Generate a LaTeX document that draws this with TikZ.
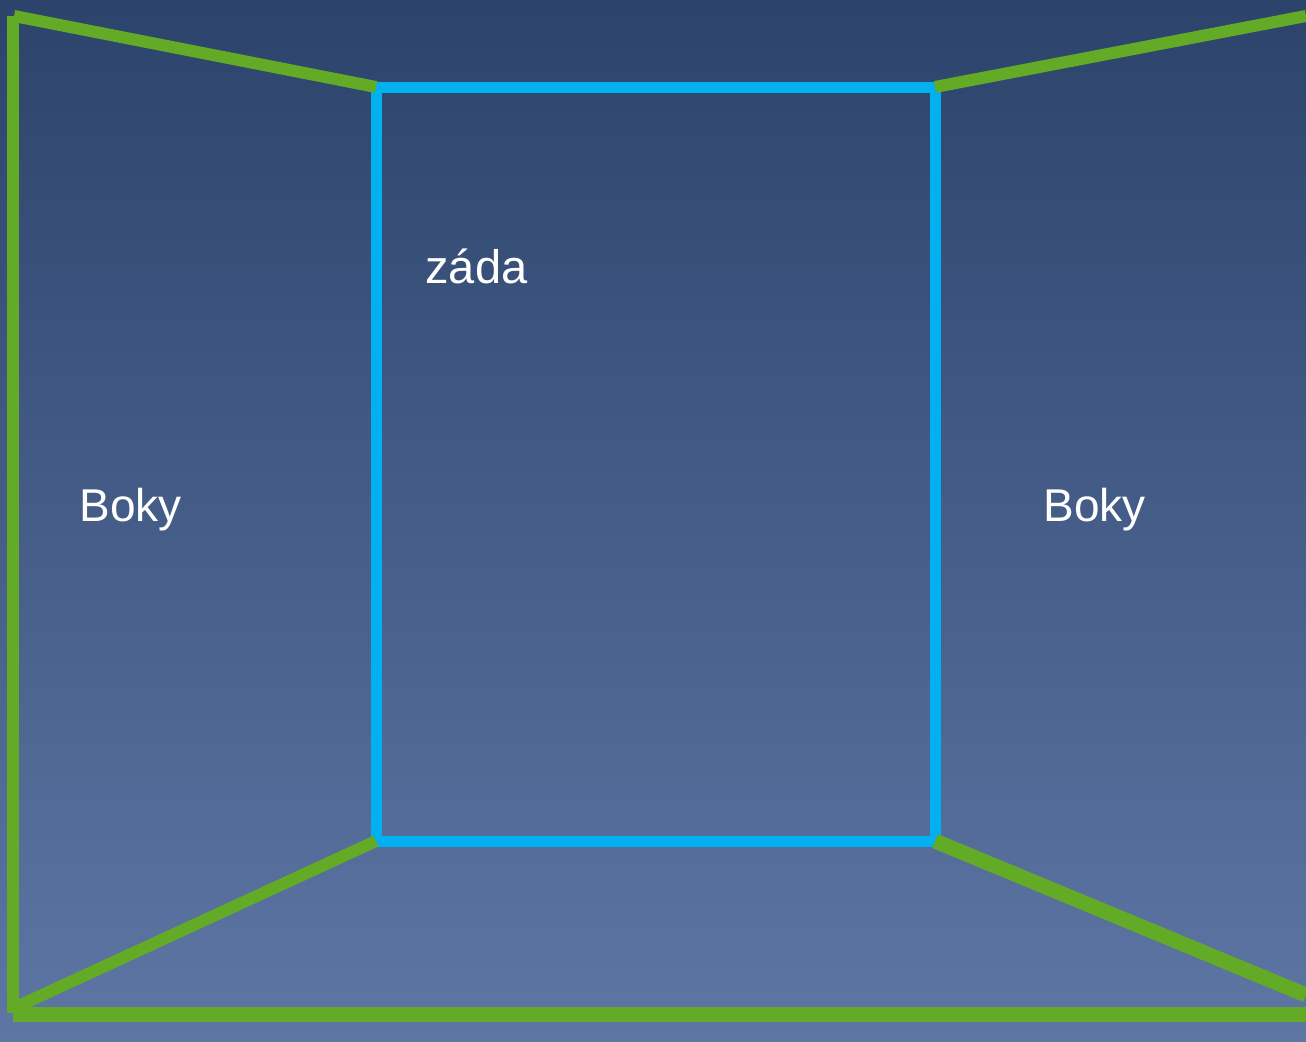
\documentclass[tikz,border=0pt]{standalone}
\usepackage{fontspec}
\setmainfont{Liberation Sans}
\definecolor{bgtop}{RGB}{44,68,107}
\definecolor{bgmid}{RGB}{56,84,128}
\definecolor{bgbot}{RGB}{93,118,164}
\definecolor{wallgreen}{RGB}{99,170,38}
\definecolor{backblue}{RGB}{0,176,240}
\begin{document}
\begin{tikzpicture}[x=0.5pt,y=-0.5pt,
  edge/.style={draw=wallgreen,line width=6pt},
  thickedge/.style={draw=wallgreen,line width=7.5pt},
  backwall/.style={draw=backblue,line width=5.5pt},
  label/.style={text=white,font=\fontsize{23.5}{27}\selectfont,anchor=base west,inner sep=0pt}]
\shade[top color=bgtop,middle color=bgmid,bottom color=bgbot] (0,0) rectangle (1306,1041);
\useasboundingbox (0,0) rectangle (1306,1041);
% back wall
\coordinate (btl) at (376,87);
\coordinate (btr) at (935,87);
\coordinate (bbl) at (376,841);
\coordinate (bbr) at (935,841);
\draw[backwall] (btl) rectangle (bbr);
% outer corners
\coordinate (otl) at (14,16);
\coordinate (otr) at (1306,16);
\coordinate (obl) at (14,1008);
\coordinate (obr) at (1306,995);
\coordinate (vtop) at (13,16);
\coordinate (vbot) at (13,1013);
\coordinate (hl) at (13,1014);
\coordinate (hr) at (1306,1014);
\draw[edge] (vtop) -- (vbot);
\draw[edge] (otl) -- (btl);
\draw[edge] (btr) -- (otr);
\draw[edge] (bbl) -- (obl);
\draw[thickedge] (bbr) -- (obr);
\draw[thickedge] (hl) -- (hr);
% labels
\node[label] (zada) at (425,283) {záda};
\node[label,font=\fontsize{23}{27}\selectfont] (bokyl) at (79,521) {Boky};
\node[label,font=\fontsize{23}{27}\selectfont] (bokyr) at (1043,521) {Boky};
\end{tikzpicture}
\end{document}
